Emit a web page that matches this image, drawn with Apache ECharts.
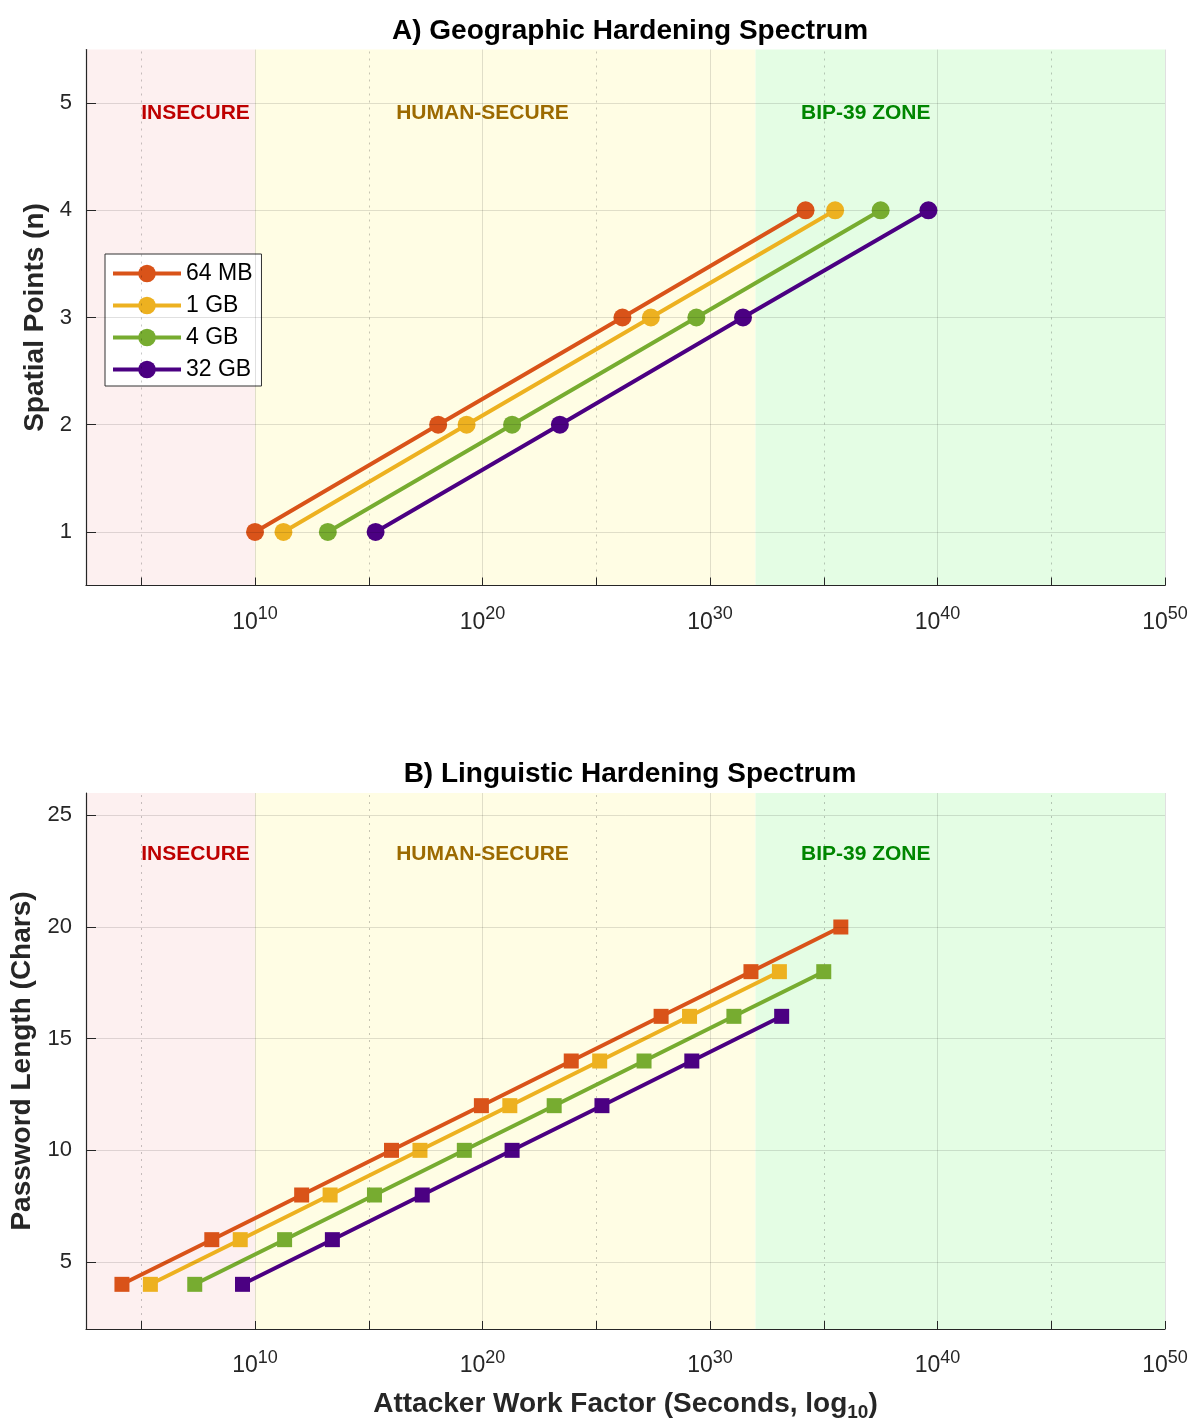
<!DOCTYPE html>
<html>
<head>
<meta charset="utf-8">
<script src="https://cdn.jsdelivr.net/npm/echarts@6/dist/echarts.min.js"></script>
<style>
  html, body { margin: 0; padding: 0; background: #fff; }
  #chart { width: 1193px; height: 1423px; }
</style>
</head>
<body>
<div id="chart"></div>
<script>
// series names and colours
var names = ['64 MB', '1 GB', '4 GB', '32 GB'];
var colors = ['#D95319', '#EDB120', '#77AC30', '#4B0082'];

// panel A: spatial points n vs log10(work factor)
var pointsN = [1, 2, 3, 4];
var geoLog = [
  [10.0, 18.05, 26.15, 34.2],
  [11.25, 19.3, 27.4, 35.5],
  [13.2, 21.3, 29.4, 37.5],
  [15.3, 23.4, 31.45, 39.6]
];

// panel B: password length vs log10(work factor)
var passLen = [4, 6, 8, 10, 12, 14, 16, 18, 20];
var lingLog = [
  [4.15, 8.1, 12.05, 16.0, 19.95, 23.9, 27.85, 31.8, 35.75],
  [5.4, 9.35, 13.3, 17.25, 21.2, 25.15, 29.1, 33.05],
  [7.35, 11.3, 15.25, 19.2, 23.15, 27.1, 31.05, 35.0],
  [9.45, 13.4, 17.35, 21.3, 25.25, 29.2, 33.15]
];

// axis ticks
var xMin = 2.57, xMax = 50;
var xLabelVals = [10, 20, 30, 40, 50];
var xTickVals = [5, 10, 15, 20, 25, 30, 35, 40, 45, 50];
var yTicksA = [1, 2, 3, 4, 5];
var yTicksB = [5, 10, 15, 20, 25];

// zones (log10 seconds)
var zoneEdges = [xMin, 10, 32, 50];
var zoneFill = ['#FDF0F0', '#FFFDE4', '#E4FDE4'];
var zoneText = ['INSECURE', 'HUMAN-SECURE', 'BIP-39 ZONE'];
var zoneTextColor = ['#BE0000', '#9C6A00', '#008600'];
var zoneTextX = [5, 20, 34];

var font = 'Liberation Sans, Arial, Helvetica, sans-serif';
var axisColor = '#262626';

var chart = echarts.init(document.getElementById('chart'));

function makeX(idx, showName) {
  return {
    type: 'value', gridIndex: idx, min: xMin, max: xMax, z: 10,
    name: showName ? '{a|Attacker Work Factor (Seconds, log}{s|10}{a|)}' : '',
    nameLocation: 'middle', nameGap: 58,
    nameTextStyle: {
      rich: {
        a: { fontSize: 28, fontWeight: 'bold', color: axisColor, fontFamily: font },
        s: { fontSize: 19, fontWeight: 'bold', color: axisColor, fontFamily: font, padding: [16, 0, 0, 0] }
      }
    },
    axisLine: { show: true, onZero: false, lineStyle: { color: axisColor, width: 1.2 } },
    axisTick: { show: true, inside: true, length: 8, customValues: xTickVals, lineStyle: { color: axisColor } },
    axisLabel: {
      customValues: xLabelVals, margin: 20,
      formatter: function (v) { return '{b|10}{s|' + v + '}'; },
      rich: {
        b: { fontSize: 23, color: axisColor, fontFamily: font },
        s: { fontSize: 18, color: axisColor, fontFamily: font, padding: [0, 0, 16, 0] }
      }
    },
    splitLine: { show: false }
  };
}

function makeY(idx, min, max, ticks, name, gap) {
  return {
    type: 'value', gridIndex: idx, min: min, max: max, z: 10,
    name: name, nameLocation: 'middle', nameGap: gap,
    nameTextStyle: { fontSize: 28, fontWeight: 'bold', color: axisColor, fontFamily: font },
    axisLine: { show: true, lineStyle: { color: axisColor, width: 1.2 } },
    axisTick: { show: true, inside: true, length: 10, customValues: ticks, lineStyle: { color: axisColor } },
    axisLabel: { customValues: ticks, fontSize: 22, color: axisColor, fontFamily: font, margin: 14 },
    splitLine: { show: true, lineStyle: { color: 'rgba(0,0,0,0.12)', width: 1 } }
  };
}

var series = [];

// background zones + vertical grid for both panels
[0, 1].forEach(function (g) {
  var areas = [];
  for (var i = 0; i < zoneFill.length; i++) {
    areas.push([
      { xAxis: zoneEdges[i], itemStyle: { color: zoneFill[i] } },
      { xAxis: zoneEdges[i + 1] }
    ]);
  }
  series.push({
    type: 'line', xAxisIndex: g, yAxisIndex: g, data: [], z: 0, silent: true,
    markArea: { silent: true, data: areas }
  });
  var vlines = [];
  xTickVals.forEach(function (v) {
    vlines.push({
      xAxis: v,
      lineStyle: v % 10 === 0
        ? { type: 'solid', color: 'rgba(0,0,0,0.12)', width: 1 }
        : { type: [2, 5], color: 'rgba(0,0,0,0.22)', width: 1 }
    });
  });
  series.push({
    type: 'line', xAxisIndex: g, yAxisIndex: g, data: [], z: 9, silent: true,
    markLine: { silent: true, symbol: 'none', label: { show: false }, animation: false, data: vlines }
  });
});

// zone labels
var zoneY = [4.905, 23.27];
[0, 1].forEach(function (g) {
  for (var i = 0; i < zoneText.length; i++) {
    series.push({
      type: 'scatter', xAxisIndex: g, yAxisIndex: g, symbolSize: 0, silent: true, z: 8,
      itemStyle: { opacity: 1 },
      data: [[zoneTextX[i], zoneY[g]]],
      label: {
        show: true, formatter: zoneText[i], opacity: 1,
        position: i === 1 ? 'inside' : 'right', distance: 0,
        fontSize: 21, fontWeight: 'bold', color: zoneTextColor[i], fontFamily: font
      }
    });
  }
});

// panel A lines
names.forEach(function (nm, k) {
  series.push({
    name: nm, type: 'line', xAxisIndex: 0, yAxisIndex: 0, z: 5,
    symbol: 'circle', symbolSize: 18, showSymbol: true,
    lineStyle: { color: colors[k], width: 4 },
    itemStyle: { color: colors[k] },
    data: geoLog[k].map(function (x, i) { return [x, pointsN[i]]; })
  });
});

// panel B lines
names.forEach(function (nm, k) {
  series.push({
    name: nm, type: 'line', xAxisIndex: 1, yAxisIndex: 1, z: 5,
    symbol: 'rect', symbolSize: 15, showSymbol: true,
    lineStyle: { color: colors[k], width: 4 },
    itemStyle: { color: colors[k] },
    data: lingLog[k].map(function (x, i) { return [x, passLen[i]]; })
  });
});

chart.setOption({
  animation: false,
  backgroundColor: '#fff',
  title: [
    { text: 'A) Geographic Hardening Spectrum', left: 625, top: 12, textAlign: 'center',
      textStyle: { fontSize: 28, fontWeight: 'bold', color: '#000', fontFamily: font } },
    { text: 'B) Linguistic Hardening Spectrum', left: 625, top: 755, textAlign: 'center',
      textStyle: { fontSize: 28, fontWeight: 'bold', color: '#000', fontFamily: font } }
  ],
  legend: {
    data: names, orient: 'vertical', left: 105, top: 254,
    backgroundColor: '#fff', borderColor: '#333', borderWidth: 1,
    padding: [8, 9, 5, 6], itemGap: 9, itemWidth: 68, itemHeight: 22,
    lineStyle: { width: 4 },
    textStyle: { fontSize: 23, color: '#000', fontFamily: font, lineHeight: 22 }
  },
  grid: [
    { left: 86, top: 49.5, width: 1079, height: 536 },
    { left: 86, top: 793, width: 1079, height: 536 }
  ],
  xAxis: [makeX(0, false), makeX(1, true)],
  yAxis: [
    makeY(0, 0.5, 5.5, yTicksA, 'Spatial Points (n)', 36),
    makeY(1, 2, 26, yTicksB, 'Password Length (Chars)', 49)
  ],
  series: series
});
</script>
</body>
</html>
